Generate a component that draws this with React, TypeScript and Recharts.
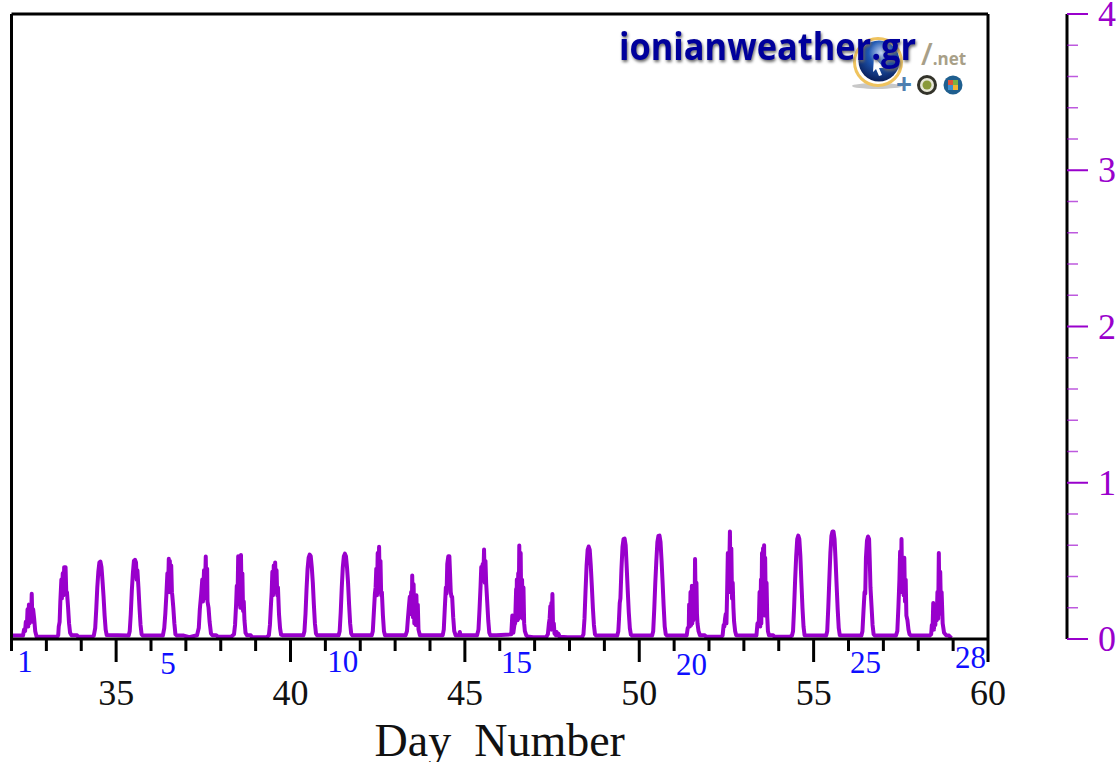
// App.tsx
import React from "react";
import { LineChart, Line, XAxis, YAxis, Label } from "recharts";

const PURPLE = "#9900cc";
const BLUE = "#0f0fff";
const SERIF = "'Liberation Serif', 'Times New Roman', serif";

// [fraction of the day, reading], one list per day
const day01 = [[.02,.022],[.33,.022],[.36,.06],[.39,.05],[.41,.11],[.44,.08],[.46,.19],[.48,.08],[.50,.22],[.52,.10],[.54,.17],[.56,.12],[.58,.29],[.60,.11],[.62,.19],[.65,.13],[.68,.05],[.72,.014],[.95,.014]];
const day02 = [[.30,.014],[.34,.024],[.355,.08],[.38,.11],[.40,.24],[.43,.38],[.445,.26],[.47,.42],[.49,.28],[.51,.46],[.55,.46],[.57,.30],[.59,.30],[.62,.21],[.65,.10],[.68,.04],[.72,.024],[.88,.024],[.91,.014]];
const day03 = [[.28,.014],[.33,.022],[.37,.07],[.40,.19],[.43,.33],[.46,.43],[.49,.49],[.52,.496],[.55,.46],[.58,.37],[.61,.27],[.64,.15],[.67,.06],[.70,.025]];
const day04 = [[.32,.022],[.35,.05],[.38,.16],[.41,.31],[.44,.42],[.47,.50],[.50,.507],[.53,.49],[.55,.38],[.57,.44],[.60,.33],[.63,.20],[.66,.09],[.69,.03],[.72,.022]];
const day05 = [[.30,.022],[.34,.07],[.37,.16],[.40,.28],[.43,.42],[.45,.32],[.47,.513],[.49,.30],[.50,.50],[.52,.32],[.54,.47],[.56,.30],[.57,.28],[.60,.20],[.63,.10],[.66,.03],[.70,.022],[.90,.022]];
const day06 = [[.08,.012],[.30,.024],[.35,.07],[.38,.19],[.42,.29],[.45,.38],[.47,.24],[.50,.44],[.52,.26],[.55,.528],[.57,.26],[.59,.45],[.60,.24],[.63,.20],[.66,.11],[.70,.035],[.74,.024],[.85,.024],[.90,.014]];
const day07 = [[.30,.014],[.38,.03],[.41,.09],[.44,.22],[.46,.34],[.48,.24],[.50,.53],[.52,.22],[.54,.44],[.56,.20],[.58,.537],[.60,.24],[.62,.42],[.64,.18],[.66,.24],[.68,.12],[.71,.04],[.75,.024],[.86,.024],[.89,.012]];
const day08 = [[.30,.012],[.36,.024],[.39,.09],[.42,.22],[.44,.30],[.46,.43],[.48,.28],[.50,.47],[.52,.30],[.54,.49],[.56,.32],[.58,.44],[.60,.28],[.62,.33],[.65,.16],[.68,.07],[.71,.028],[.75,.024]];
const day09 = [[.33,.024],[.36,.05],[.39,.16],[.42,.32],[.45,.45],[.48,.52],[.51,.54],[.54,.53],[.57,.46],[.60,.36],[.63,.22],[.66,.10],[.69,.035],[.72,.024]];
const day10 = [[.34,.024],[.37,.05],[.40,.17],[.43,.33],[.46,.46],[.49,.53],[.52,.546],[.55,.53],[.58,.46],[.61,.36],[.64,.22],[.67,.10],[.70,.035],[.73,.024]];
const day11 = [[.33,.024],[.36,.05],[.39,.17],[.42,.29],[.44,.33],[.46,.45],[.48,.28],[.50,.55],[.52,.30],[.54,.59],[.56,.32],[.58,.50],[.60,.28],[.62,.30],[.65,.15],[.68,.05],[.71,.024]];
const day12 = [[.30,.024],[.34,.05],[.37,.14],[.40,.22],[.42,.27],[.44,.16],[.46,.30],[.48,.17],[.49,.406],[.51,.14],[.53,.35],[.55,.10],[.57,.26],[.59,.09],[.61,.28],[.63,.09],[.65,.22],[.67,.06],[.71,.024]];
const day13 = [[.30,.024],[.35,.024],[.38,.06],[.41,.20],[.44,.33],[.46,.29],[.48,.48],[.51,.53],[.54,.53],[.56,.42],[.58,.30],[.60,.27],[.62,.27],[.65,.14],[.68,.05],[.72,.024],[.82,.024],[.84,.045],[.86,.024]];
const day14 = [[.33,.024],[.37,.06],[.40,.19],[.43,.34],[.45,.46],[.47,.38],[.49,.48],[.51,.40],[.53,.573],[.55,.36],[.57,.50],[.59,.36],[.62,.24],[.65,.12],[.68,.04],[.71,.024],[.88,.024]];
const day15 = [[.33,.03],[.36,.15],[.39,.04],[.42,.09],[.44,.10],[.47,.32],[.48,.12],[.49,.38],[.51,.12],[.53,.42],[.54,.13],[.56,.598],[.58,.14],[.60,.55],[.62,.14],[.64,.38],[.66,.13],[.68,.33],[.70,.10],[.72,.05],[.76,.024],[.80,.016],[.96,.012]];
const day16 = [[.33,.012],[.38,.03],[.41,.10],[.43,.13],[.45,.21],[.47,.07],[.48,.23],[.49,.06],[.51,.288],[.53,.06],[.55,.10],[.57,.035],[.61,.024],[.63,.045],[.66,.022],[.68,.035],[.72,.014],[.95,.012]];
const day17 = [[.33,.012],[.37,.03],[.40,.13],[.43,.31],[.46,.47],[.49,.57],[.52,.592],[.55,.57],[.58,.47],[.61,.34],[.64,.20],[.67,.09],[.70,.03],[.73,.022]];
const day18 = [[.33,.022],[.36,.05],[.38,.13],[.40,.23],[.42,.26],[.45,.45],[.48,.59],[.51,.64],[.54,.643],[.57,.60],[.60,.46],[.63,.31],[.66,.17],[.69,.07],[.72,.028],[.75,.022]];
const day19 = [[.33,.022],[.36,.05],[.39,.19],[.42,.36],[.45,.50],[.48,.62],[.51,.66],[.54,.662],[.57,.62],[.60,.50],[.63,.36],[.66,.21],[.69,.08],[.72,.03],[.75,.022]];
const day20 = [[.36,.022],[.39,.07],[.42,.08],[.43,.22],[.45,.08],[.47,.30],[.49,.09],[.51,.34],[.52,.10],[.54,.34],[.55,.12],[.57,.30],[.585,.14],[.60,.512],[.62,.20],[.64,.36],[.655,.16],[.67,.10],[.70,.05],[.74,.024],[.88,.024],[.92,.014]];
const day21 = [[.34,.014],[.39,.022],[.42,.09],[.44,.08],[.46,.13],[.48,.16],[.50,.10],[.52,.30],[.54,.55],[.56,.30],[.58,.45],[.60,.688],[.62,.30],[.64,.58],[.66,.26],[.68,.36],[.70,.20],[.72,.11],[.75,.05],[.78,.024],[.98,.022]];
const day22 = [[.38,.022],[.41,.10],[.43,.09],[.45,.12],[.47,.30],[.49,.08],[.51,.38],[.52,.10],[.54,.55],[.55,.18],[.57,.58],[.585,.20],[.60,.60],[.615,.15],[.63,.52],[.65,.18],[.67,.36],[.69,.14],[.71,.05],[.74,.024],[.86,.024],[.90,.014]];
const day23 = [[.30,.014],[.36,.022],[.39,.05],[.42,.20],[.45,.38],[.48,.53],[.51,.64],[.54,.662],[.57,.64],[.60,.53],[.63,.36],[.66,.20],[.69,.08],[.72,.024]];
const day24 = [[.34,.022],[.37,.05],[.40,.20],[.43,.38],[.46,.55],[.49,.66],[.52,.688],[.55,.688],[.58,.64],[.61,.50],[.64,.34],[.67,.19],[.70,.07],[.73,.024]];
const day25 = [[.35,.022],[.38,.05],[.41,.18],[.44,.30],[.46,.29],[.48,.52],[.51,.63],[.54,.656],[.57,.64],[.59,.50],[.61,.33],[.64,.21],[.67,.09],[.70,.03],[.73,.022]];
const day26 = [[.31,.022],[.35,.05],[.38,.20],[.41,.38],[.43,.56],[.45,.30],[.47,.64],[.49,.30],[.51,.52],[.53,.28],[.55,.52],[.57,.24],[.59,.38],[.61,.15],[.64,.12],[.67,.06],[.70,.03],[.74,.022],[.92,.022]];
const day27 = [[.33,.022],[.37,.03],[.39,.09],[.41,.06],[.43,.23],[.45,.06],[.47,.22],[.49,.09],[.51,.22],[.53,.12],[.55,.30],[.57,.13],[.59,.55],[.61,.16],[.63,.43],[.65,.20],[.67,.30],[.70,.10],[.74,.04],[.80,.024],[.88,.022],[.95,.006]];

const dailyReadings = [
  day01, day02, day03, day04, day05, day06, day07, day08, day09,
  day10, day11, day12, day13, day14, day15, day16, day17, day18,
  day19, day20, day21, day22, day23, day24, day25, day26, day27,
];

const dayPeakShifts = [0, 0, .03, .04, .04, .02, 0, .02, .04, .04, 0, 0, .015, .02, 0, 0, .03, .04, .04, 0, 0, -.02, .02, .02, .02, .05, 0];

const FIRST_DAY = 32;
const LAST_DAY = 60;
const dayTicks = [32, 33, 34, 35, 36, 37, 38, 39, 40, 41, 42, 43, 44, 45, 46, 47, 48, 49, 50, 51, 52, 53, 54, 55, 56, 57, 58, 59, 60];
const labelledDays = [35, 40, 45, 50, 55, 60];

// the blue numbers count the days of the month
const monthDayTicks = [32.39, 36.49, 41.5, 46.48, 51.5, 56.49, 59.5];
const monthDayLabels = ["1", "5", "10", "15", "20", "25", "28"];
const monthDayBaselines = [-89, -87, -89, -88, -86, -88, -93];

const valueTicks = [0, 0.2, 0.4, 0.6, 0.8, 1, 1.2, 1.4, 1.6, 1.8, 2, 2.2, 2.4, 2.6, 2.8, 3, 3.2, 3.4, 3.6, 3.8, 4];

const chartData = dailyReadings.flatMap((readings, i) =>
  readings.map(([fraction, value]) => ({ day: FIRST_DAY + i + fraction + dayPeakShifts[i], value }))
);

function DayTick({ x, y, payload }: any) {
  const major = labelledDays.includes(payload.value);
  return (
    <g>
      <line x1={x} x2={x} y1={y} y2={y + (major ? 23 : 12)} stroke="#000" strokeWidth={3} />
      {major && (
        <text x={x} y={y + 66} textAnchor="middle" fontFamily={SERIF} fontSize={36} fill="#111">
          {payload.value}
        </text>
      )}
    </g>
  );
}

function MonthDayTick({ x, y, index }: any) {
  return (
    <text x={x} y={y + monthDayBaselines[index]} textAnchor="middle" fontFamily={SERIF} fontSize={31} fill={BLUE}>
      {monthDayLabels[index]}
    </text>
  );
}

function ValueTick({ x, y, payload }: any) {
  const major = Number.isInteger(payload.value);
  return (
    <g>
      <line
        x1={x}
        x2={x + (major ? 21 : 11)}
        y1={y}
        y2={y}
        stroke={PURPLE}
        strokeOpacity={major ? 1 : 0.65}
        strokeWidth={major ? 2 : 1.5}
      />
      {major && (
        <text x={x + 31} y={y + 12} fontFamily={SERIF} fontSize={36} fill={PURPLE}>
          {payload.value}
        </text>
      )}
    </g>
  );
}

function Watermark() {
  return (
    <svg width={400} height={90} style={{ position: "absolute", left: 600, top: 20, overflow: "visible" }}>
      <defs>
        <radialGradient id="globe" cx="55%" cy="30%" r="75%">
          <stop offset="0%" stopColor="#c6d6f2" />
          <stop offset="40%" stopColor="#1f58b4" />
          <stop offset="100%" stopColor="#06174f" />
        </radialGradient>
      </defs>
      <ellipse cx={277} cy={66} rx={25} ry={3} fill="#c8c8c8" />
      <circle cx={278} cy={42} r={23.5} fill="#fff" stroke="#efc35e" strokeWidth={3} />
      <circle cx={279} cy={41} r={20.5} fill="url(#globe)" />
      <path d="M274 37 l10 11 l-5 0 l3 7 l-3 1 l-3 -7 l-3 3 z" fill="#fff" />
      <text x={296} y={74} fontFamily="'Open Sans'" fontWeight={700} fontSize={28} fill="#4f7fb0">+</text>
      <circle cx={327} cy={65} r={10} fill="#33332a" />
      <circle cx={327} cy={65} r={7} fill="#e8e8d8" />
      <circle cx={327} cy={65} r={4.5} fill="#8a9a3a" />
      <circle cx={353} cy={65} r={9.5} fill="#1f5f8f" />
      <rect x={348} y={60} width={5} height={5} fill="#e0533a" />
      <rect x={353} y={60} width={5} height={5} fill="#7cb342" />
      <rect x={348} y={65} width={5} height={5} fill="#3d8fd1" />
      <rect x={353} y={65} width={5} height={5} fill="#f2b632" />
      <text
        x={19}
        y={40}
        fontFamily="'Open Sans'"
        fontWeight={700}
        fontSize={38}
        textLength={297}
        lengthAdjust="spacingAndGlyphs"
        fill="#00009c"
        style={{ filter: "drop-shadow(1px 2px 1.5px #666)" }}
      >
        ionianweather.gr
      </text>
      <text x={321} y={45} fontFamily="'Open Sans'" fontWeight={700} fontSize={17} fill="#a89f88">
        <tspan fontSize={30} fontWeight={600}>/</tspan>.net
      </text>
    </svg>
  );
}

export default function App() {
  return (
    <div style={{ position: "absolute", left: 0, top: 0, width: 1116, height: 762, overflow: "hidden", background: "#fff" }}>
      <LineChart
        width={1116}
        height={762}
        data={chartData}
        margin={{ top: 13, right: 0, bottom: 0, left: 0 }}
      >
        <XAxis xAxisId="top" orientation="top" type="number" dataKey="day" domain={[FIRST_DAY, LAST_DAY]} height={1} tick={false} tickLine={false} axisLine={{ stroke: "#000", strokeWidth: 3 }} />
        <XAxis
          xAxisId="main"
          type="number"
          dataKey="day"
          domain={[FIRST_DAY, LAST_DAY]}
          ticks={dayTicks}
          interval={0}
          height={122}
          tickSize={0}
          tickMargin={0}
          axisLine={{ stroke: "#000", strokeWidth: 3 }}
          tickLine={false}
          tick={<DayTick />}
        >
          <Label
            value={"Day \u00a0Number"}
            position="insideBottom"
            offset={5}
            fontFamily={SERIF}
            fontSize={46}
            fill="#111"
          />
        </XAxis>
        <XAxis
          xAxisId="month"
          type="number"
          dataKey="day"
          domain={[FIRST_DAY, LAST_DAY]}
          ticks={monthDayTicks}
          interval={0}
          height={1}
          tickSize={0}
          tickMargin={0}
          axisLine={false}
          tickLine={false}
          tick={<MonthDayTick />}
        />
        <YAxis yAxisId="left" domain={[0, 4]} width={11.5} tick={false} tickLine={false} axisLine={{ stroke: "#000", strokeWidth: 3 }} />
        <YAxis yAxisId="frame" orientation="right" domain={[0, 4]} width={79} tick={false} tickLine={false} axisLine={{ stroke: "#000", strokeWidth: 3 }} />
        <YAxis
          yAxisId="value"
          orientation="right"
          domain={[0, 4]}
          ticks={valueTicks}
          interval={0}
          width={49}
          tickSize={0}
          tickMargin={0}
          tickLine={false}
          axisLine={{ stroke: "#000", strokeWidth: 3 }}
          tick={<ValueTick />}
        />
        <Line
          xAxisId="main"
          yAxisId="value"
          dataKey="value"
          type="linear"
          dot={false}
          stroke={PURPLE}
          strokeWidth={4}
          strokeLinejoin="round"
          isAnimationActive={false}
        />
      </LineChart>
      <Watermark />
    </div>
  );
}
